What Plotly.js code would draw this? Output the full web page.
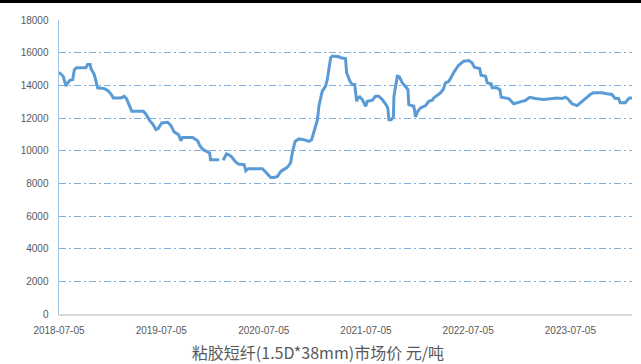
<!DOCTYPE html>
<html>
<head>
<meta charset="utf-8">
<script src="https://cdn.plot.ly/plotly-3.0.1.min.js"></script>
<style>
  html, body { margin: 0; padding: 0; background: #ffffff; }
  #chart { width: 641px; height: 364px; }
</style>
</head>
<body>
<div id="chart"></div>
<script>
// Weekly market price of viscose staple fibre (1.5D*38mm), yuan per tonne.
// A null marks the pause in quotes around the 2020 Spring Festival.
const dates = [
  '2018-07-05','2018-07-20','2018-07-30','2018-08-05','2018-08-13','2018-08-23','2018-08-29','2018-09-06',
  '2018-10-09','2018-10-15','2018-10-24','2018-10-27','2018-11-08','2018-11-14','2018-11-20','2018-12-14',
  '2018-12-26','2019-01-06','2019-01-15','2019-02-11','2019-02-23','2019-03-03','2019-03-13','2019-03-22',
  '2019-05-02','2019-05-11','2019-05-25','2019-06-06','2019-06-16','2019-06-24','2019-07-07','2019-07-28',
  '2019-08-08','2019-08-20','2019-09-05','2019-09-13','2019-09-19','2019-10-25','2019-11-12','2019-11-20',
  '2019-12-02','2019-12-17','2019-12-25','2019-12-28','2020-01-28','2020-02-04','2020-02-11','2020-02-23',
  '2020-03-03','2020-03-13','2020-03-25','2020-04-06','2020-04-26','2020-05-02','2020-05-11','2020-06-30',
  '2020-07-12','2020-07-30','2020-08-11','2020-08-23','2020-09-04','2020-09-15','2020-09-27','2020-10-09',
  '2020-10-15','2020-10-25','2020-11-08','2020-11-26','2020-12-14','2020-12-23','2020-12-31','2021-01-13',
  '2021-01-18','2021-01-24','2021-01-30','2021-02-11','2021-02-17','2021-03-01','2021-03-07','2021-03-31',
  '2021-04-06','2021-04-23','2021-04-27','2021-05-09','2021-05-17','2021-05-26','2021-06-02','2021-06-06',
  '2021-06-13','2021-06-22','2021-07-04','2021-07-10','2021-07-28','2021-08-08','2021-08-20','2021-09-01',
  '2021-09-13','2021-09-21','2021-09-25','2021-10-03','2021-10-11','2021-10-13','2021-10-25','2021-11-01',
  '2021-11-12','2021-11-27','2021-12-02','2021-12-05','2021-12-17','2021-12-23','2021-12-29','2022-01-06',
  '2022-01-16','2022-02-03','2022-02-14','2022-02-27','2022-03-04','2022-03-16','2022-03-28','2022-04-07',
  '2022-04-15','2022-04-27','2022-05-03','2022-05-17','2022-06-01','2022-06-19','2022-07-07','2022-07-19',
  '2022-07-27','2022-08-15','2022-08-20','2022-09-05','2022-09-11','2022-09-25','2022-09-29','2022-10-14',
  '2022-10-26','2022-10-31','2022-11-27','2022-12-15','2023-01-07','2023-01-25','2023-02-10','2023-03-02',
  '2023-04-01','2023-04-24','2023-05-18','2023-06-05','2023-06-17','2023-06-25','2023-07-11','2023-07-29',
  '2023-08-09','2023-08-31','2023-09-14','2023-09-24','2023-10-26','2023-11-12','2023-11-30','2023-12-12',
  '2023-12-24','2023-12-30','2024-01-17','2024-01-23','2024-02-01','2024-02-10'
];

const prices = [
  14800,14560,13950,14150,14300,14350,14970,15070,
  15070,15280,15280,15030,14660,14250,13850,13800,
  13680,13480,13230,13230,13330,13190,12820,12410,
  12410,12250,11840,11600,11290,11350,11700,11740,
  11550,11150,10980,10610,10810,10810,10610,10300,
  10060,9960,9860,9450,9450,null,9410,9800,
  9750,9610,9340,9180,9140,8770,8900,8900,
  8690,8360,8360,8420,8730,8830,8980,9250,
  9860,10570,10720,10670,10570,10670,11180,11900,
  12720,13130,13640,13950,14360,15690,15790,15750,
  15690,15640,14770,14250,14050,14050,13020,13230,
  13290,13130,12720,13020,13090,13330,13330,13130,
  12870,12620,11900,11900,12070,13330,14560,14520,
  14150,13850,13740,12820,12760,12720,12070,12410,
  12620,12760,13020,13090,13230,13370,13540,13740,
  14150,14250,14460,14860,15230,15480,15520,15380,
  15110,15030,14620,14560,14150,14090,13850,13850,
  13740,13270,13190,12870,12990,13070,13270,13190,
  13130,13190,13230,13190,13270,13190,12870,12760,
  12930,13270,13440,13540,13540,13480,13440,13190,
  13190,12930,12930,13070,13230,13230
];

const xTickVals = ['2018-07-05','2019-07-05','2020-07-05','2021-07-05','2022-07-05','2023-07-05'];
const xTickText = ['2018-07-05','2019-07-05','2020-07-05','2021-07-05','2022-07-05','2023-07-05'];
const yTickVals = [0,2000,4000,6000,8000,10000,12000,14000,16000,18000];
const yTickText = ['0','2000','4000','6000','8000','10000','12000','14000','16000','18000'];
const titleText = '粘胶短纤(1.5D*38mm)市场价 元/吨';

const tickFont = { family: 'Liberation Sans, Arial, sans-serif', size: 10, color: '#595959' };

const trace = {
  type: 'scatter',
  mode: 'lines',
  x: dates,
  y: prices,
  connectgaps: false,
  line: { color: '#5B9BD5', width: 3, shape: 'linear' },
  hoverinfo: 'x+y'
};

const layout = {
  width: 641,
  height: 364,
  margin: { l: 59, r: 9, t: 20, b: 50, pad: 0 },
  paper_bgcolor: '#ffffff',
  plot_bgcolor: '#ffffff',
  showlegend: false,
  title: {
    text: titleText,
    font: { family: 'Noto Sans CJK SC, sans-serif', size: 16, color: '#595959' },
    xref: 'container', x: 0.496,
    yref: 'container', y: 0.03, yanchor: 'middle', xanchor: 'center'
  },
  xaxis: {
    type: 'date',
    range: ['2018-07-05', '2024-02-10'],
    tickmode: 'array',
    tickvals: xTickVals,
    ticktext: xTickText,
    tickfont: tickFont,
    showgrid: false,
    zeroline: false,
    showline: true,
    linecolor: '#D9D9D9',
    linewidth: 2,
    ticks: '',
    ticklabelstandoff: 6
  },
  yaxis: {
    range: [0, 18000],
    tickmode: 'array',
    tickvals: yTickVals,
    ticktext: yTickText,
    tickfont: tickFont,
    showgrid: true,
    gridcolor: '#82AEDC',
    gridwidth: 1,
    griddash: '7px,3px,2px,3px',
    zeroline: false,
    showline: true,
    linecolor: '#9DC3E6',
    linewidth: 1.5,
    ticks: '',
    ticklabelstandoff: 7
  },
  shapes: [
    {
      type: 'rect', xref: 'paper', yref: 'paper',
      x0: -0.2, x1: 1.2, y0: 1.058, y1: 1.08,
      fillcolor: '#000000', line: { width: 0 }, layer: 'above'
    }
  ]
};

Plotly.newPlot('chart', [trace], layout, { displayModeBar: false, staticPlot: true });
</script>
</body>
</html>
